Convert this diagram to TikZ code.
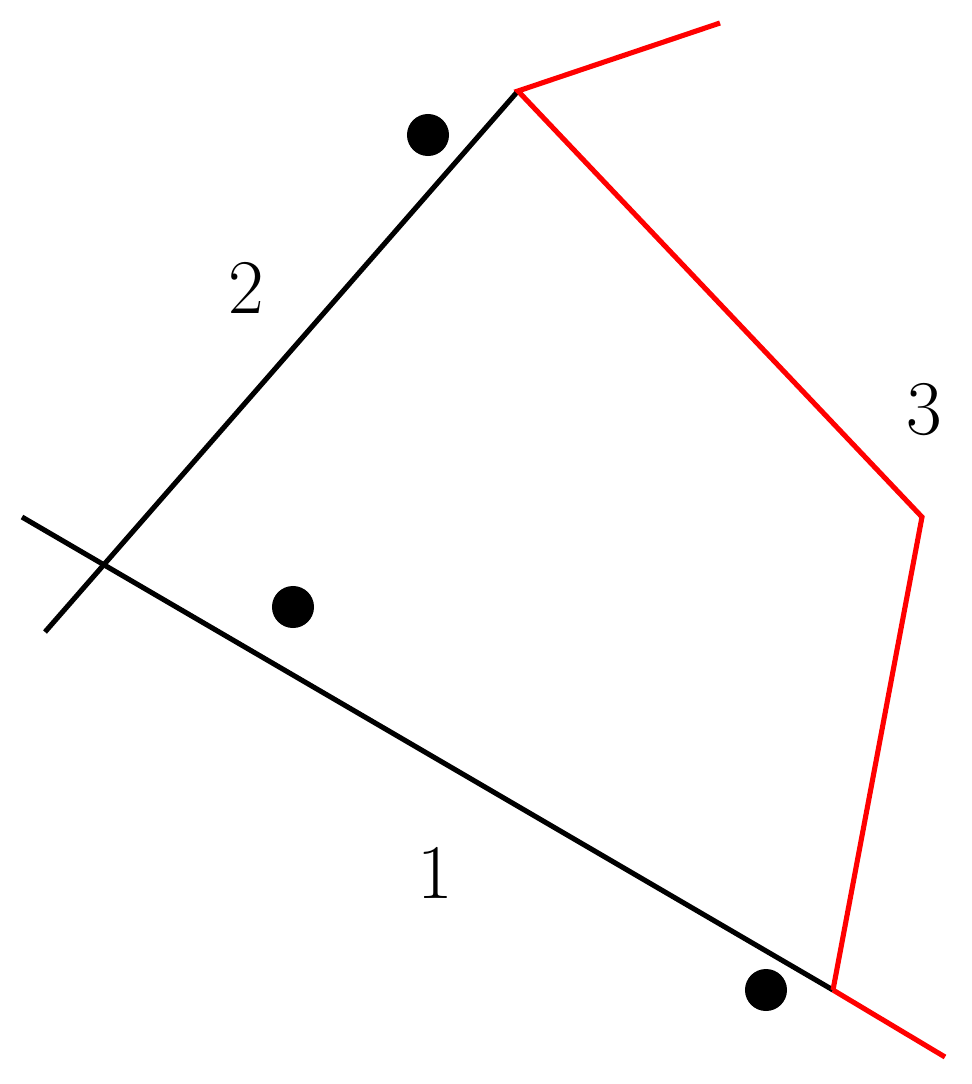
\documentclass[tikz,border=0pt]{standalone}
\begin{document}
\begin{tikzpicture}[x=0.01cm,y=-0.01cm,
  blk/.style={line width=1.45pt,black},
  rd/.style={line width=1.45pt,red},
  dot/.style={circle,fill=black,inner sep=0pt,minimum size=0.42cm},
  lab/.style={font=\fontsize{22}{26}\selectfont}]
\useasboundingbox (0,0) rectangle (972,1084);
\coordinate (a1) at (22,517);
\coordinate (b1) at (833,990);
\coordinate (c1) at (945,1057);
\coordinate (a2) at (45,632);
\coordinate (b2) at (518,91);
\coordinate (t) at (720,23);
\coordinate (r) at (922,517);
\draw[blk] (a1) -- (b1);
\draw[blk] (a2) -- (b2);
\draw[rd] (b1) -- (c1);
\draw[rd] (t) -- (b2) -- (r) -- (b1);
\node[dot] (d1) at (428,135) {};
\node[dot] (d2) at (293,607) {};
\node[dot] (d3) at (766,990) {};
\node[lab] (l2) at (246,288) {2};
\node[lab] (l3) at (924,410) {3};
\node[lab] (l1) at (435,873) {1};
\end{tikzpicture}
\end{document}
